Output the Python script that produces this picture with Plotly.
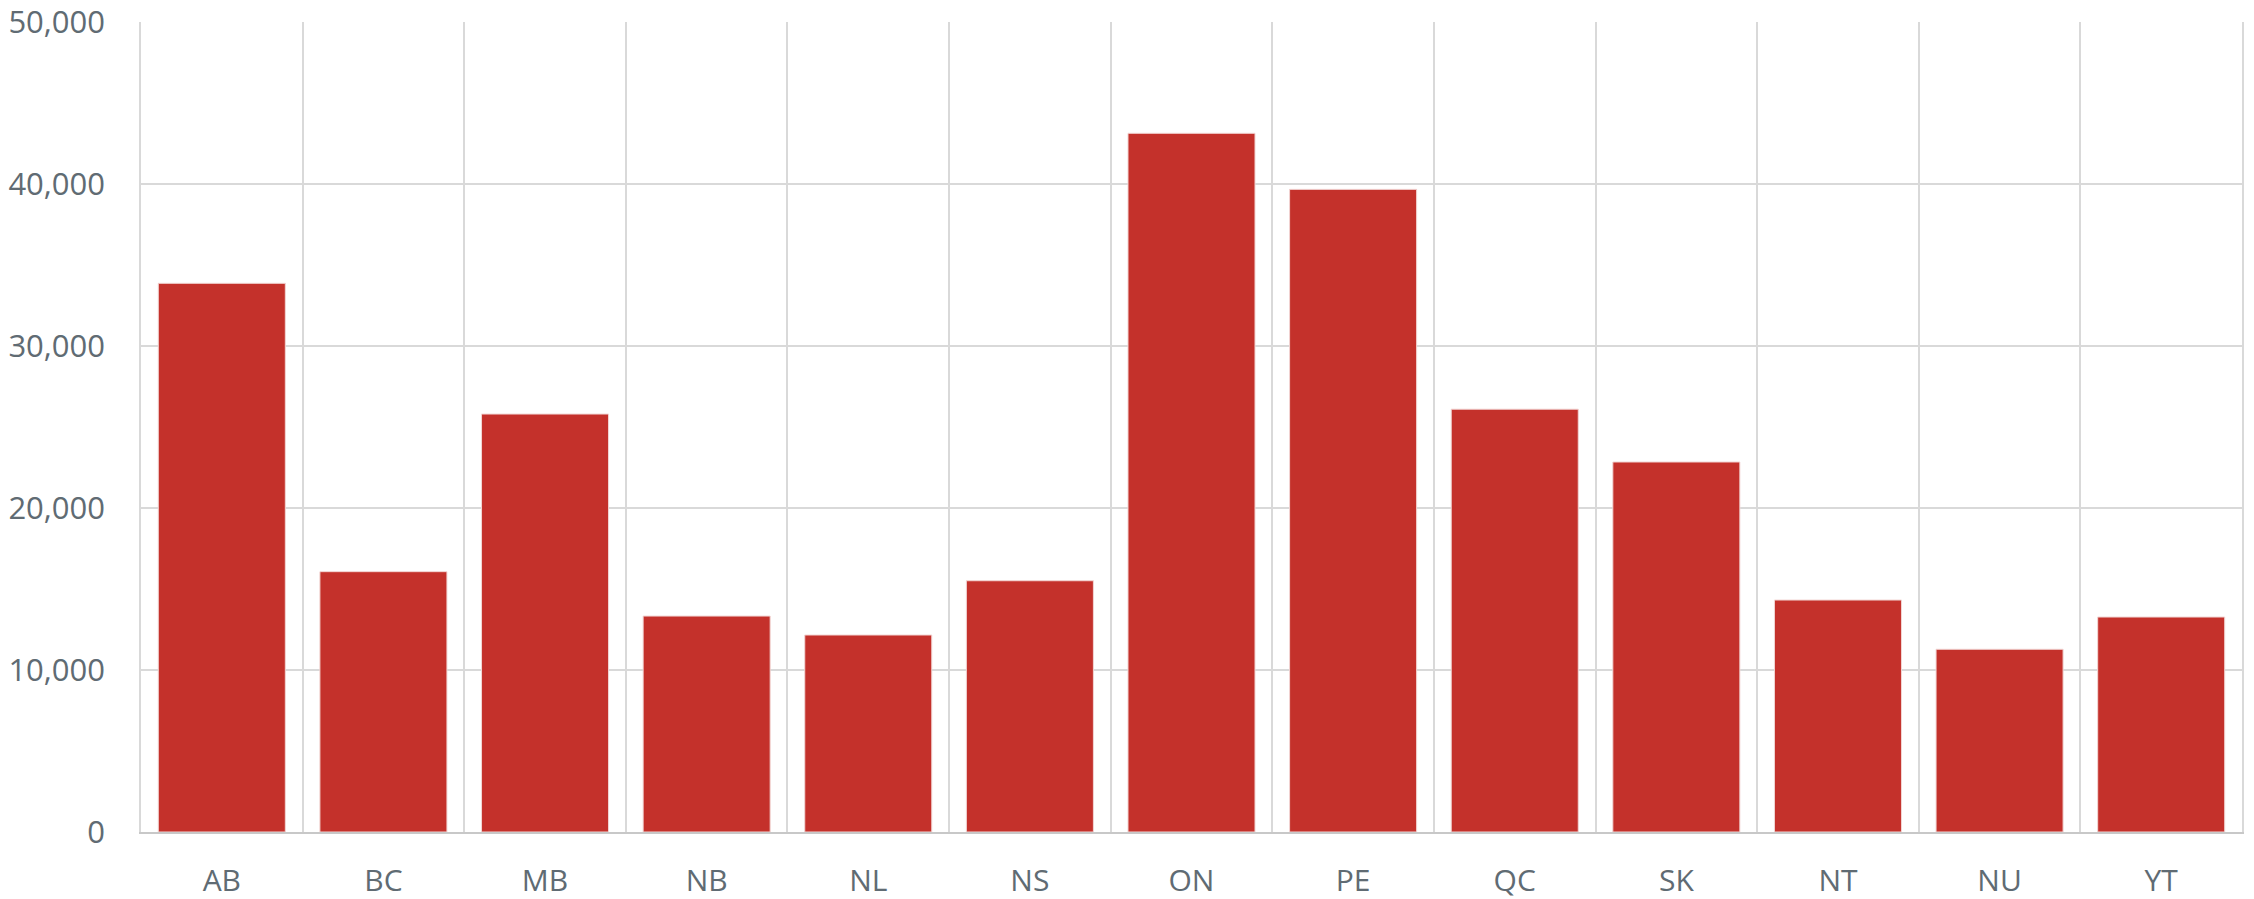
import plotly.graph_objects as go

provinces = ["AB", "BC", "MB", "NB", "NL", "NS", "ON", "PE", "QC", "SK", "NT", "NU", "YT"]
values = [33870, 16070, 25800, 13330, 12160, 15510, 43130, 39670, 26100, 22840, 14320, 11280, 13270]
y_ticks = [0, 10000, 20000, 30000, 40000, 50000]
y_tick_labels = ["0", "10,000", "20,000", "30,000", "40,000", "50,000"]

text_color = "#606b73"
grid_color = "#d9d9d9"

fig = go.Figure(
    go.Bar(
        x=provinces,
        y=values,
        marker=dict(color="#c4312b", line=dict(color="#f2d6d4", width=1)),
        hoverinfo="x+y",
    )
)

fig.update_layout(
    width=2254,
    height=899,
    margin=dict(l=141, r=12, t=22, b=67),
    paper_bgcolor="white",
    plot_bgcolor="white",
    bargap=0.214,
    showlegend=False,
    font=dict(family="Open Sans", size=30, color=text_color),
)

fig.update_xaxes(
    type="category",
    tickson="boundaries",
    automargin=False,
    showgrid=True,
    gridcolor=grid_color,
    gridwidth=1.5,
    ticks="",
    ticklabelstandoff=21,
    ticklabeloverflow="allow",
    showline=True,
    linecolor="#c8c8c8",
    linewidth=1.5,
    mirror=False,
    tickfont=dict(family="Open Sans", size=30, color=text_color),
)

fig.update_yaxes(
    range=[0, 50000],
    tickvals=y_ticks,
    ticktext=y_tick_labels,
    automargin=False,
    showgrid=True,
    gridcolor=grid_color,
    gridwidth=1.5,
    showline=True,
    linecolor=grid_color,
    linewidth=1.5,
    mirror=True,
    zeroline=False,
    ticks="",
    ticklabelstandoff=28,
    ticklabeloverflow="allow",
    tickfont=dict(family="Open Sans", size=31, color=text_color),
)

fig.write_html(
    "out.html",
    config={"displayModeBar": False},
    post_script="document.body.style.margin='0';document.body.style.overflow='hidden';",
)
